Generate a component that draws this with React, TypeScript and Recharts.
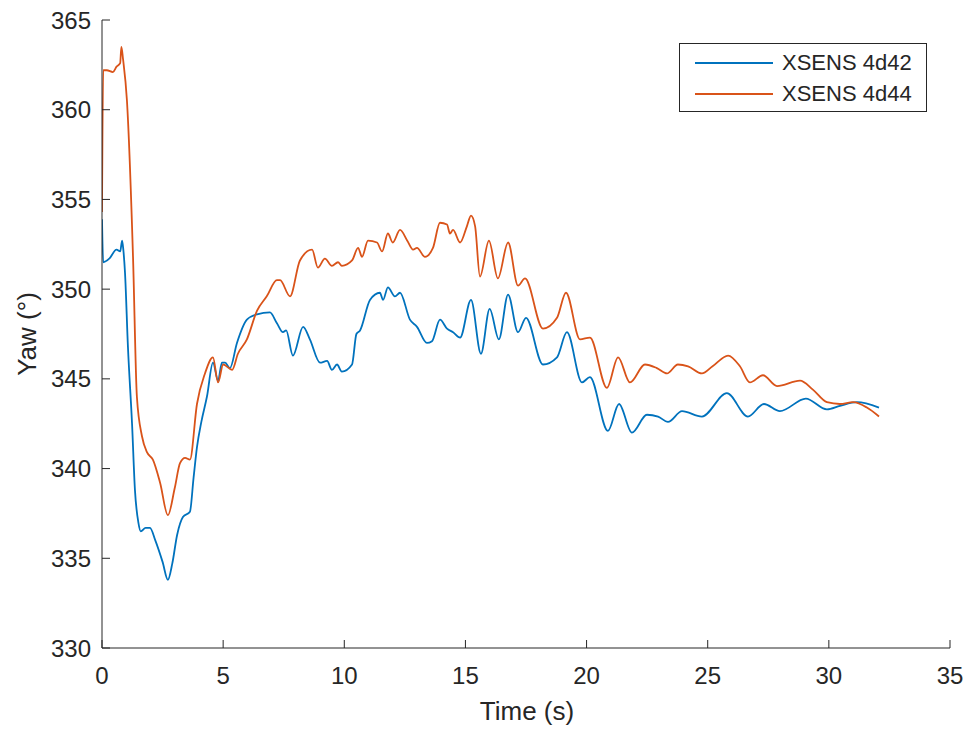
import { LineChart, Line, XAxis, YAxis } from 'recharts'

// Sensor A (XSENS 4d42): time in seconds and yaw in degrees
const timeA = [
  0, 0.05, 0.3, 0.6, 0.75, 0.83, 0.88, 0.95, 1.07, 1.24, 1.36, 1.5, 1.6, 1.8, 1.98, 2.2, 2.5, 2.72, 2.9, 3.1,
  3.34, 3.63, 3.78, 3.92, 4.1, 4.33, 4.58, 4.79, 4.95, 5.08, 5.28, 5.57, 5.98, 6.4, 6.93, 7.22, 7.47, 7.6, 7.88, 8.3,
  8.58, 9.0, 9.29, 9.49, 9.7, 9.9, 10.32, 10.5, 10.65, 11.06, 11.47, 11.6, 11.8, 12.09, 12.3, 12.71, 13.0, 13.41, 13.62, 13.95,
  14.24, 14.49, 14.78, 15.23, 15.64, 16.0, 16.38, 16.76, 17.17, 17.5, 18.2, 18.78, 19.19, 19.81, 20.14, 20.88, 21.34, 21.87, 22.49, 22.95,
  23.36, 23.94, 24.76, 25.79, 26.66, 27.32, 27.98, 29.05, 29.92, 30.46, 31.16, 32.07,
]
const yawA = [
  353.9, 351.5, 351.7, 352.2, 352.1, 352.7, 352.2, 350.9, 346.8, 342.5, 338.8, 337.0, 336.5, 336.7, 336.7, 336.0, 334.8, 333.8, 334.7, 336.3,
  337.3, 337.6, 339.5, 341.2, 342.6, 344.0, 345.9, 344.9, 345.9, 345.9, 345.6, 347.0, 348.3, 348.6, 348.7, 348.1, 347.6, 347.7, 346.3, 347.9,
  347.2, 345.9, 346.0, 345.5, 345.8, 345.4, 345.8, 347.5, 347.7, 349.4, 349.8, 349.4, 350.1, 349.6, 349.8, 348.3, 347.9, 347.0, 347.1, 348.3,
  347.8, 347.6, 347.3, 349.4, 346.4, 348.9, 347.2, 349.7, 347.6, 348.4, 345.8, 346.2, 347.6, 344.8, 345.1, 342.1, 343.6, 342.0, 343.0, 342.9,
  342.6, 343.2, 342.9, 344.2, 342.9, 343.6, 343.2, 343.9, 343.3, 343.5, 343.7, 343.4,
]

// Sensor B (XSENS 4d44)
const timeB = [
  0, 0.05, 0.2, 0.45, 0.6, 0.75, 0.8, 0.87, 1.03, 1.28, 1.44, 1.65, 1.86, 2.1, 2.4, 2.72, 3.0, 3.22, 3.43, 3.63,
  3.92, 4.25, 4.58, 4.79, 5.0, 5.37, 5.61, 5.98, 6.4, 6.8, 7.22, 7.35, 7.76, 8.17, 8.67, 8.91, 9.2, 9.49, 9.74, 9.9,
  10.32, 10.57, 10.73, 10.98, 11.35, 11.56, 11.8, 12.0, 12.3, 12.6, 12.84, 13.0, 13.33, 13.66, 13.95, 14.24, 14.36, 14.49, 14.78, 15.06,
  15.23, 15.4, 15.6, 15.97, 16.34, 16.76, 17.17, 17.46, 18.2, 18.78, 19.15, 19.73, 20.14, 20.84, 21.3, 21.79, 22.41, 22.9, 23.32, 23.77,
  24.19, 24.76, 25.2, 25.84, 26.33, 26.74, 27.28, 27.86, 28.81, 29.34, 29.92, 30.46, 31.0, 31.57, 32.07,
]
const yawB = [
  354.3, 362.2, 362.2, 362.1, 362.4, 362.6, 363.5, 362.8, 360.5, 351.8, 344.0, 341.8, 340.9, 340.5, 339.2, 337.4, 338.9, 340.3, 340.6, 340.5,
  343.6, 345.3, 346.2, 344.8, 345.8, 345.5, 346.4, 347.2, 348.8, 349.6, 350.5, 350.5, 349.6, 351.6, 352.2, 351.2, 351.7, 351.3, 351.5, 351.3,
  351.6, 352.3, 351.8, 352.7, 352.6, 352.1, 353.1, 352.6, 353.3, 352.7, 352.2, 352.3, 351.8, 352.3, 353.7, 353.6, 353.1, 353.3, 352.6, 353.5,
  354.1, 353.5, 350.7, 352.7, 350.6, 352.6, 350.2, 350.6, 347.8, 348.4, 349.8, 347.2, 347.3, 344.5, 346.2, 344.8, 345.8, 345.6, 345.3, 345.8,
  345.7, 345.3, 345.7, 346.3, 345.7, 344.8, 345.2, 344.6, 344.9, 344.4, 343.7, 343.6, 343.7, 343.4, 342.9,
]

const xTicks = [0, 5, 10, 15, 20, 25, 30, 35]
const yTicks = [330, 335, 340, 345, 350, 355, 360, 365]

const seriesNames = ['XSENS 4d42', 'XSENS 4d44']
const seriesColors = ['#0072BD', '#D95319']

const WIDTH = 972
const HEIGHT = 731
const MARGIN = { top: 20, right: 22, left: 0, bottom: 0 }
const YAXIS_W = 102
const XAXIS_H = 83
const AXIS_X = MARGIN.left + YAXIS_W
const AXIS_Y = HEIGHT - MARGIN.bottom - XAXIS_H
const TICK_LEN = 8
const FONT = '"Liberation Sans", Arial, Helvetica, sans-serif'
const INK = '#262626'

const dataA = timeA.map((t, i) => ({ t, yaw: yawA[i] }))
const dataB = timeB.map((t, i) => ({ t, yaw: yawB[i] }))

// ticks point into the plot, like the MATLAB default
function XTick({ x, y, payload }: any) {
  return (
    <g>
      <line x1={x} x2={x} y1={AXIS_Y} y2={AXIS_Y - TICK_LEN} stroke={INK} />
      <text x={x} y={y} dy="0.71em" textAnchor="middle" fill={INK} fontSize={24} fontFamily={FONT}>
        {payload.value}
      </text>
    </g>
  )
}

function YTick({ x, y, payload }: any) {
  return (
    <g>
      <line x1={AXIS_X} x2={AXIS_X + TICK_LEN} y1={y} y2={y} stroke={INK} />
      <text x={x} y={y} dy="0.355em" textAnchor="end" fill={INK} fontSize={24} fontFamily={FONT}>
        {payload.value}
      </text>
    </g>
  )
}

// legend drawn on top of the chart so it doesn't eat into the plot area
function LegendBox() {
  return (
    <div
      style={{
        position: 'absolute',
        left: 679,
        top: 43,
        width: 246,
        height: 67,
        border: `1px solid ${INK}`,
        background: '#fff',
        fontFamily: FONT,
        fontSize: 22,
        color: INK,
      }}
    >
      {seriesNames.map((name, i) => (
        <div key={name} style={{ position: 'absolute', left: 0, top: 5 + i * 31, height: 28, display: 'flex', alignItems: 'center' }}>
          <svg width={102} height={28}>
            <line x1={15} x2={93} y1={14} y2={14} stroke={seriesColors[i]} strokeWidth={1.8} />
          </svg>
          <span style={{ whiteSpace: 'nowrap', lineHeight: '28px' }}>{name}</span>
        </div>
      ))}
    </div>
  )
}

export default function App() {
  return (
    <div style={{ position: 'absolute', left: 0, top: 0, width: WIDTH, height: HEIGHT, background: '#fff' }}>
      <LineChart width={WIDTH} height={HEIGHT} margin={MARGIN}>
        <XAxis
          dataKey="t"
          type="number"
          domain={[0, 35]}
          ticks={xTicks}
          allowDataOverflow
          height={XAXIS_H}
          tickSize={0}
          tickMargin={19}
          tickLine={false}
          tick={<XTick />}
          stroke={INK}
          label={{
            content: () => (
              <text x={(AXIS_X + WIDTH - MARGIN.right) / 2 + 1} y={720} textAnchor="middle" fill={INK} fontSize={26} fontFamily={FONT}>
                Time (s)
              </text>
            ),
          }}
        />
        <YAxis
          dataKey="yaw"
          type="number"
          domain={[330, 365]}
          ticks={yTicks}
          allowDataOverflow
          width={YAXIS_W}
          tickSize={0}
          tickMargin={11}
          tickLine={false}
          tick={<YTick />}
          stroke={INK}
          label={{
            content: () => (
              <text
                x={36}
                y={(MARGIN.top + AXIS_Y) / 2}
                transform={`rotate(-90, 36, ${(MARGIN.top + AXIS_Y) / 2})`}
                textAnchor="middle"
                fill={INK}
                fontSize={26}
                fontFamily={FONT}
              >
                Yaw (°)
              </text>
            ),
          }}
        />
        <Line
          data={dataA}
          dataKey="yaw"
          name={seriesNames[0]}
          type="monotone"
          stroke={seriesColors[0]}
          strokeWidth={1.8}
          dot={false}
          isAnimationActive={false}
        />
        <Line
          data={dataB}
          dataKey="yaw"
          name={seriesNames[1]}
          type="monotone"
          stroke={seriesColors[1]}
          strokeWidth={1.8}
          dot={false}
          isAnimationActive={false}
        />
      </LineChart>
      <LegendBox />
    </div>
  )
}
